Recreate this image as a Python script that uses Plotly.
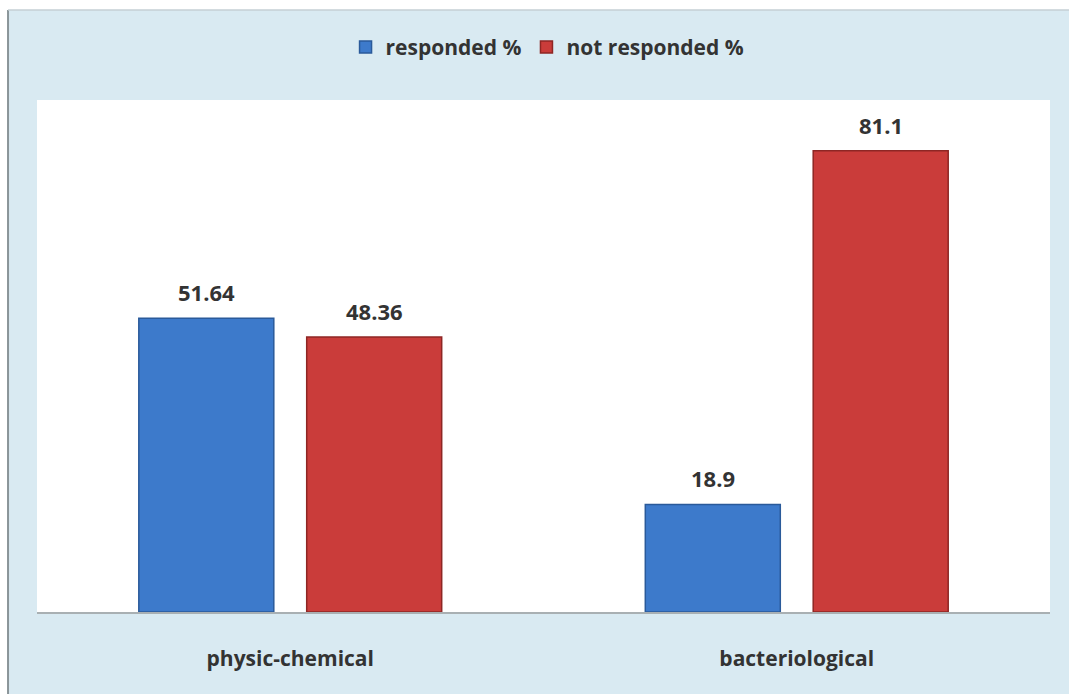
import plotly.graph_objects as go

categories = ["physic-chemical", "bacteriological"]
responded = [51.64, 18.9]
not_responded = [48.36, 81.1]
series_names = ["responded %", "not responded %"]

BLUE = "#3d7acb"
BLUE_EDGE = "#2a5a9a"
RED = "#ca3c3a"
RED_EDGE = "#8e2624"
TEXT = "#333333"
FRAME_BG = "#d9eaf2"
FONT = "'Open Sans', Arial, sans-serif"

BARGAP = 0.337
BARGROUPGAP = 0.196

fig = go.Figure()
fig.add_trace(go.Bar(
    x=categories, y=responded, name=series_names[0],
    marker=dict(color=BLUE, line=dict(color=BLUE_EDGE, width=1.5)),
))
fig.add_trace(go.Bar(
    x=categories, y=not_responded, name=series_names[1],
    marker=dict(color=RED, line=dict(color=RED_EDGE, width=1.5)),
))

# value labels above each bar, offset to the bar's slot inside its group
slot = (1 - BARGAP) / 2
for s, vals in enumerate([responded, not_responded]):
    off = (s - 0.5) * slot
    for i, v in enumerate(vals):
        fig.add_annotation(
            x=i + off, y=v, xref="x", yref="y",
            text=f"{v:g}", showarrow=False,
            yanchor="bottom", yshift=9,
            font=dict(family=FONT, size=22, color=TEXT, weight="bold"),
        )

# outer frame: white page edge with grey rule on the left and top
fig.add_shape(type="rect", xref="paper", yref="paper",
              x0=-0.1, x1=-0.0286, y0=-0.3, y1=1.3,
              fillcolor="white", line_width=0, layer="above")
fig.add_shape(type="rect", xref="paper", yref="paper",
              x0=-0.1, x1=1.1, y0=1.1758, y1=1.3,
              fillcolor="white", line_width=0, layer="above")
fig.add_shape(type="line", xref="paper", yref="paper",
              x0=-0.0286, x1=-0.0286, y0=-0.3, y1=1.1758,
              line=dict(color="#8a9599", width=2), layer="above")
fig.add_shape(type="line", xref="paper", yref="paper",
              x0=-0.0286, x1=1.1, y0=1.1758, y1=1.1758,
              line=dict(color="#c4cfd4", width=1.5), layer="above")

fig.update_layout(
    width=1069, height=694,
    margin=dict(l=37, r=19, t=100, b=82),
    paper_bgcolor=FRAME_BG,
    plot_bgcolor="white",
    barmode="group",
    bargap=BARGAP,
    bargroupgap=BARGROUPGAP,
    font=dict(family=FONT, color=TEXT),
    showlegend=True,
    legend=dict(
        orientation="h", x=0.504, xanchor="center", y=1.103, yanchor="middle",
        font=dict(family=FONT, size=21, color=TEXT, weight="bold"),
        bgcolor="rgba(0,0,0,0)", itemwidth=30,
    ),
    xaxis=dict(
        showline=True, linecolor="#a9b0b3", linewidth=2,
        ticks="", showgrid=False,
        tickfont=dict(family=FONT, size=21, color=TEXT, weight="bold"),
        ticklabelstandoff=27,
    ),
    yaxis=dict(range=[0, 90], visible=False, showgrid=False, zeroline=False),
)

fig.write_html("out.html")
